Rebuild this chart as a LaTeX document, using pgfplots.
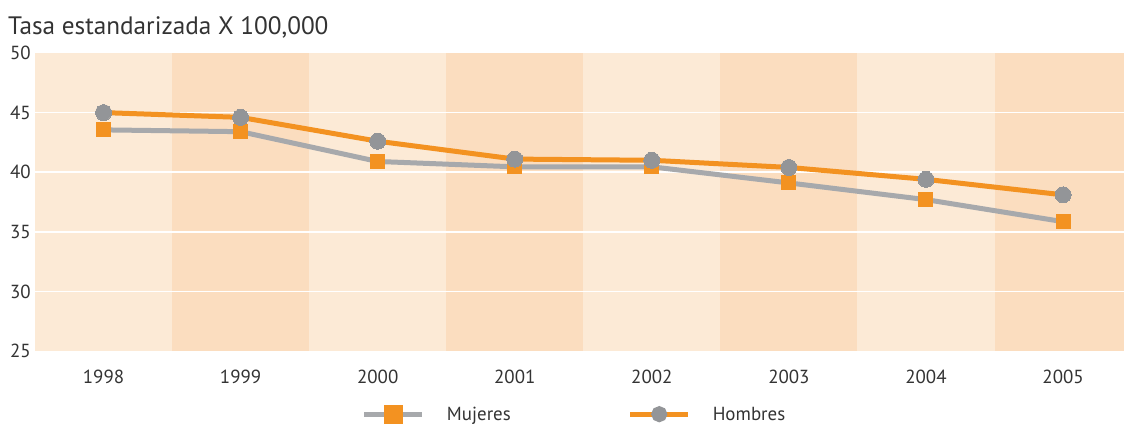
\documentclass[border=0pt]{standalone}
\usepackage{pgfplots}
\pgfplotsset{compat=1.18}
\usepackage{fontspec}
\setmainfont{PT Sans}
\definecolor{bandA}{RGB}{252,234,214}
\definecolor{bandB}{RGB}{251,221,191}
\definecolor{orng}{RGB}{243,146,33}
\definecolor{grl}{RGB}{167,169,172}
\definecolor{grm}{RGB}{147,149,152}
\definecolor{txt}{RGB}{51,51,51}
\begin{document}
\begin{tikzpicture}
\path[use as bounding box] (0,0) rectangle (1124bp,426bp);
\node[anchor=base west, inner sep=0pt, text=txt, font=\fontsize{25.3}{30}\selectfont] at (8bp,391.5bp) {Tasa estandarizada X 100,000};
\begin{axis}[
  at={(35bp,75bp)}, anchor=south west,
  scale only axis, width=1089bp, height=298bp,
  xmin=-0.5, xmax=7.445, ymin=25, ymax=50,
  axis line style={draw=none},
  tick style={draw=none},
  major tick length=0pt,
  axis background/.style={fill=bandA},
  xtick={0,...,7}, xticklabels={1998,1999,2000,2001,2002,2003,2004,2005},
  ytick={25,30,35,40,45,50},
  /pgf/number format/assume math mode=true,
  ticklabel style={font=\fontsize{19}{23}\selectfont, text=txt},
  yticklabel style={inner sep=0pt, xshift=-4bp},
  xticklabel style={inner sep=0pt, yshift=-19bp},
  legend columns=2,
  legend style={at={(0.300,-0.212)}, anchor=west, draw=none, fill=none, inner sep=0pt,
    font=\fontsize{19}{23}\selectfont, text=txt,
    /tikz/every odd column/.append style={column sep=20bp},
    /tikz/every even column/.append style={column sep=115bp}},
]
\addplot[fill=bandB, draw=none, forget plot] coordinates {(0.5,25)(0.5,50)(1.5,50)(1.5,25)} -- cycle;
\addplot[fill=bandB, draw=none, forget plot] coordinates {(2.5,25)(2.5,50)(3.5,50)(3.5,25)} -- cycle;
\addplot[fill=bandB, draw=none, forget plot] coordinates {(4.5,25)(4.5,50)(5.5,50)(5.5,25)} -- cycle;
\addplot[fill=bandB, draw=none, forget plot] coordinates {(6.5,25)(6.5,50)(7.5,50)(7.5,25)} -- cycle;
\addplot[white, line width=1.5bp, forget plot] coordinates {(-0.5,30)(7.5,30)};
\addplot[white, line width=1.5bp, forget plot] coordinates {(-0.5,35)(7.5,35)};
\addplot[white, line width=1.5bp, forget plot] coordinates {(-0.5,40)(7.5,40)};
\addplot[white, line width=1.5bp, forget plot] coordinates {(-0.5,45)(7.5,45)};
\addplot[grl, line width=5bp, mark=square*, mark size=7bp,
  mark options={fill=orng, draw=orng, line width=0pt},
  legend image code/.code={\draw[grl, line width=5bp] (0bp,0bp) -- (58bp,0bp); \fill[orng] (22bp,-7bp) rectangle (36bp,7bp);}]
  coordinates {(0,43.55)(1,43.4)(2,40.9)(3,40.45)(4,40.45)(5,39.1)(6,37.7)(7,35.85)};
\addlegendentry{Mujeres}
\addplot[orng, line width=5bp, mark=*, mark size=8bp,
  mark options={fill=grm, draw=grm, line width=0pt},
  legend image code/.code={\draw[orng, line width=5bp] (0bp,0bp) -- (58bp,0bp); \fill[grm] (29bp,0bp) circle (5.5bp);}]
  coordinates {(0,45.0)(1,44.6)(2,42.6)(3,41.1)(4,41.0)(5,40.4)(6,39.4)(7,38.1)};
\addlegendentry{Hombres}
\end{axis}
\end{tikzpicture}
\end{document}
